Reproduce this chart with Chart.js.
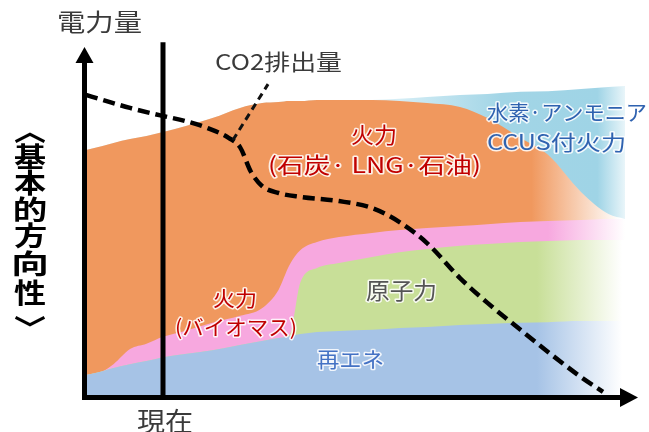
<!DOCTYPE html>
<html>
<head>
<meta charset="utf-8">
<script src="https://cdn.jsdelivr.net/npm/chart.js@4/dist/chart.umd.min.js"></script>
<style>
html,body{margin:0;padding:0;background:#fff;}
#wrap{width:649px;height:432px;}
</style>
</head>
<body>
<div id="wrap"><canvas id="c" width="649" height="432"></canvas></div>
<script>
// ---- data (conceptual timeline 0..100, electricity amount 0..100) ----
const X        = [0,3,5,8,11,14,18,23,28,32,35,37,39,42,46,52,57,62,68,73,79,84,90,95,98];
const renew    = [6.0,7.1,8.0,9.1,10.0,11.1,12.0,13.1,14.6,15.7,16.6,17.1,17.7,18.3,18.6,18.9,19.4,19.7,20.3,20.6,20.9,21.1,21.4,21.4,21.4];
const nuclear  = [0,0,0,0,0,0,0,0,0,0,0,0.3,14.9,18.3,19.4,20.8,21.7,22.3,22.6,22.8,23.1,23.2,23.2,23.2,23.2];
const biomass  = [0,0,1.1,4.3,4.9,5.8,6.6,7.8,8.3,9.4,13.7,20.0,9.1,7.4,7.4,6.9,6.3,6.0,5.7,5.7,5.7,5.7,5.7,6.0,6.0];
const thermal  = [64.3,64.3,63.2,60.0,59.4,58.5,58.5,58.5,59.4,58.6,53.7,46.9,42.6,40.6,39.2,38.0,36.9,35.7,34.0,30.3,24.0,18.9,8.0,1.4,0];
const hydrogen = [0,0,0,0,0,0,0,0,0,0,0,0,0,0,0,0,0.6,1.7,3.4,6.9,13.2,18.2,29.4,36.3,38.0];

const co2X = [0,3,8,14,18,22,26,28,30,32,35,39,46,52,57,62,68,73,79,84,90,94];
const co2  = [86.0,84.6,82.3,80.0,78.6,76.6,73.7,71.1,64.0,60.0,58.0,56.9,55.7,53.7,49.7,43.7,33.7,26.6,18.9,12.6,5.4,1.2];

const leaderX = [26.7,33.1];
const leaderY = [73.1,89.1];

const NOW_X = 14;

const TITLE_CHARS = ['︿','基','本','的','方','向','性','﹀'];

// ---- styles ----
const FONT = '"Noto Sans CJK JP","Noto Sans CJK SC",sans-serif';
const LABELS = [
  {t:'電力量', cx:99.5, cy:22, size:24, w:85, color:'#3a3a3a'},
  {t:'現在', cx:165, cy:421, size:26, w:56, color:'#3a3a3a'},
  {t:'CO2排出量', cx:278.5, cy:62, size:22, w:127, color:'#3a3a3a'},
  {t:'火力', cx:374, cy:135, size:22, w:46, color:'#c00000', halo:true},
  {t:'(石炭· LNG·石油)', cx:374.5, cy:164.5, size:22, w:213, color:'#c00000', halo:true},
  {t:'水素·アンモニア', cx:567, cy:112.5, size:21, w:160, color:'#2f62b0', halo:true},
  {t:'CCUS付火力', cx:556.5, cy:142, size:21, w:139, color:'#2f62b0', halo:true},
  {t:'火力', cx:235, cy:298.5, size:21, w:44, color:'#c00000', halo:true},
  {t:'(バイオマス)', cx:236, cy:327.5, size:21, w:122, color:'#c00000', halo:true},
  {t:'原子力', cx:401.5, cy:290, size:23, w:71, color:'#555555', halo:true},
  {t:'再エネ', cx:350.5, cy:359, size:21, w:67, color:'#4472c4', halo:true}
];
// ink centres / widths of the vertical title glyphs
const TITLE_Y = [137, 155.5, 182.5, 209, 235.5, 263.5, 292.5, 321];
const TITLE_W = [32, 32, 32, 32, 32, 32, 32, 32];

function fade(stops, x0, x1) {
  return function(context) {
    const chart = context.chart;
    if (!chart.chartArea) return stops[stops.length-1][1];
    const xs = chart.scales.x;
    const p0 = xs.getPixelForValue(x0), p1 = xs.getPixelForValue(x1);
    const g = chart.ctx.createLinearGradient(p0, 0, p1, 0);
    stops.forEach(s => g.addColorStop(s[0], s[1]));
    return g;
  };
}
const solidFade = (c, x0, x1) => fade([[0,c],[1,'#ffffff']], x0, x1);

function area(values, bg) {
  return {
    data: X.map((x,i) => ({x:x, y:values[i]})),
    yAxisID:'y', xAxisID:'x',
    fill:'origin',
    backgroundColor: bg,
    borderColor:'rgba(0,0,0,0)',
    borderWidth:0,
    pointRadius:0,
    cubicInterpolationMode:'monotone'
  };
}

function drawText(ctx, L) {
  ctx.save();
  ctx.font = (L.bold ? 'bold ' : '') + L.size + 'px ' + FONT;
  ctx.textAlign = 'center';
  ctx.textBaseline = 'middle';
  const m = ctx.measureText(L.t).width;
  const sx = L.w ? L.w / m : 1;
  ctx.translate(L.cx, L.cy);
  ctx.scale(sx, 1);
  if (L.halo) {
    ctx.strokeStyle = 'rgba(255,255,255,0.85)';
    ctx.lineWidth = 3;
    ctx.lineJoin = 'round';
    ctx.strokeText(L.t, 0, 0);
  }
  ctx.fillStyle = L.color;
  ctx.fillText(L.t, 0, 0);
  ctx.restore();
}

function drawInk(ctx, ch, cx, cy, font, w) {
  ctx.save();
  ctx.font = font;
  ctx.textAlign = 'left';
  ctx.textBaseline = 'alphabetic';
  const m = ctx.measureText(ch);
  const l = -m.actualBoundingBoxLeft, r = m.actualBoundingBoxRight;
  const t = -m.actualBoundingBoxAscent, b = m.actualBoundingBoxDescent;
  const iw = Math.max(1, r - l);
  const sx = w / iw;
  ctx.translate(cx, cy);
  ctx.scale(sx, 1);
  ctx.fillStyle = '#000';
  ctx.fillText(ch, -(l + r) / 2, -(t + b) / 2);
  ctx.restore();
}

const decor = {
  id:'decor',
  afterDatasetsDraw(chart) {
    const {ctx, chartArea:a, scales} = chart;
    const x = scales.x, y = scales.y;
    ctx.save();
    ctx.strokeStyle = '#000'; ctx.fillStyle = '#000';
    ctx.lineWidth = 5; ctx.lineCap = 'butt';
    // "now" line
    const nx = x.getPixelForValue(NOW_X);
    ctx.beginPath(); ctx.moveTo(nx, y.getPixelForValue(101.1)); ctx.lineTo(nx, a.bottom + 2); ctx.stroke();
    // axes
    const ax = a.left - 1.5, ay = a.bottom + 1.5;
    ctx.beginPath(); ctx.moveTo(ax, ay + 2.5); ctx.lineTo(ax, a.top + 16); ctx.stroke();
    ctx.beginPath(); ctx.moveTo(ax, a.top + 1); ctx.lineTo(ax - 9, a.top + 17); ctx.lineTo(ax + 9, a.top + 17); ctx.closePath(); ctx.fill();
    ctx.beginPath(); ctx.moveTo(ax - 2.5, ay); ctx.lineTo(a.right - 15, ay); ctx.stroke();
    ctx.beginPath(); ctx.moveTo(a.right + 2, ay); ctx.lineTo(a.right - 16, ay - 9.5); ctx.lineTo(a.right - 16, ay + 9.5); ctx.closePath(); ctx.fill();
    ctx.restore();
  },
  afterDraw(chart) {
    const ctx = chart.ctx;
    LABELS.forEach(L => drawText(ctx, L));
    TITLE_CHARS.forEach((ch, i) => {
      drawInk(ctx, ch, 30, TITLE_Y[i], 'bold 27px ' + FONT, TITLE_W[i]);
    });
  }
};

new Chart(document.getElementById('c'), {
  type:'line',
  data:{
    datasets:[
      area(renew,   solidFade('#a6c3e6', 82, 97.5)),
      area(nuclear, solidFade('#c8df98', 82, 97.5)),
      area(biomass, solidFade('#f7a8df', 84, 98)),
      area(thermal, solidFade('#f0985e', 81, 97)),
      area(hydrogen, fade([[0,'#d6eef6'],[0.45,'#a2d5e6'],[0.85,'#9fd4e6'],[1,'#ffffff']], 56, 99.5)),
      {
        data: co2X.map((x,i) => ({x:x, y:co2[i]})),
        yAxisID:'y2', xAxisID:'x',
        borderColor:'#000', borderWidth:4.5, borderDash:[12,6],
        fill:false, pointRadius:0, cubicInterpolationMode:'monotone', order:-1
      },
      {
        data: leaderX.map((x,i) => ({x:x, y:leaderY[i]})),
        yAxisID:'y2', xAxisID:'x',
        borderColor:'#111', borderWidth:3, borderDash:[7,5],
        fill:false, pointRadius:0, order:-2
      }
    ]
  },
  options:{
    responsive:false,
    animation:false,
    devicePixelRatio:1,
    layout:{padding:{left:86, right:13, top:46, bottom:36}},
    scales:{
      x:{type:'linear', min:0, max:100, display:false},
      y:{stacked:true, min:0, max:100, display:false},
      y2:{min:0, max:100, display:false}
    },
    plugins:{legend:{display:false}, tooltip:{enabled:false}},
    elements:{point:{radius:0}}
  },
  plugins:[decor]
});
</script>
</body>
</html>
